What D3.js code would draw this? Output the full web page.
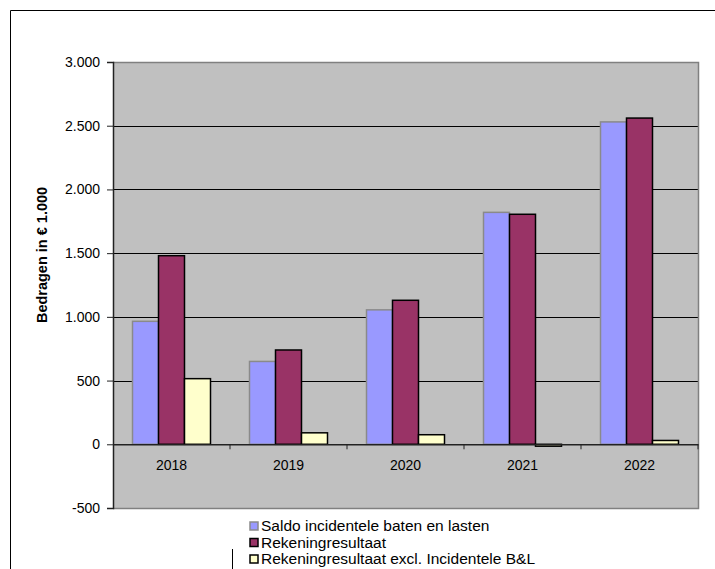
<!DOCTYPE html>
<html>
<head>
<meta charset="utf-8">
<script src="https://cdn.jsdelivr.net/npm/d3@7/dist/d3.min.js"></script>
<style>
  html, body { margin: 0; padding: 0; background: #fff; }
  svg { display: block; font-family: "Liberation Sans", Arial, sans-serif; }
</style>
</head>
<body>
<svg id="chart" width="715" height="569"></svg>
<script>
// Jaren en bedragen (x € 1.000)
const years = ["2018", "2019", "2020", "2021", "2022"];
const seriesNames = [
  "Saldo incidentele baten en lasten",
  "Rekeningresultaat",
  "Rekeningresultaat excl. Incidentele B&L"
];
const saldoIncidenteel = [965, 650, 1055, 1820, 2530];
const rekeningresultaat = [1480, 740, 1130, 1805, 2560];
const rekeningExclIncidenteel = [515, 90, 75, -15, 30];
const yTicks = [-500, 0, 500, 1000, 1500, 2000, 2500, 3000];
const yTickLabels = ["-500", "0", "500", "1.000", "1.500", "2.000", "2.500", "3.000"];

const seriesValues = [saldoIncidenteel, rekeningresultaat, rekeningExclIncidenteel];
const fills = ["#9999FF", "#993366", "#FFFFCC"];
const strokes = ["#8a8a8a", "#000000", "#000000"];

const svg = d3.select("#chart");

// outer chart frame (continues past the right and bottom edges)
svg.append("path")
  .attr("d", "M10.5,569 V10.5 H715")
  .attr("fill", "none").attr("stroke", "#000").attr("stroke-width", 1);

const plot = { left: 113, right: 698, top: 62, bottom: 508 };

const y = d3.scaleLinear().domain([-500, 3000]).range([plot.bottom, plot.top]);
const x0 = d3.scaleBand().domain(years).range([plot.left, plot.right]).paddingInner(0).paddingOuter(0);
// three bars per year with a 150% gap between groups
const x1 = d3.scaleBand().domain(d3.range(3)).range([0, x0.bandwidth()]).paddingOuter(0.75).paddingInner(0);

// plot area background
svg.append("rect")
  .attr("x", plot.left).attr("y", plot.top)
  .attr("width", plot.right - plot.left).attr("height", plot.bottom - plot.top)
  .attr("fill", "#C0C0C0");

// gridlines
svg.append("g").selectAll("line")
  .data(yTicks.filter(v => v !== 0 && v !== -500))
  .join("line")
  .attr("x1", plot.left).attr("x2", plot.right)
  .attr("y1", d => Math.round(y(d)) + 0.5).attr("y2", d => Math.round(y(d)) + 0.5)
  .attr("stroke", "#000").attr("stroke-width", 1);

// plot border (top, right, bottom)
svg.append("path")
  .attr("d", `M${plot.left},${plot.top + 0.5} H${plot.right + 0.5} V${plot.bottom + 0.5} H${plot.left}`)
  .attr("fill", "none").attr("stroke", "#808080").attr("stroke-width", 1.5);

// bars
const groups = svg.append("g").selectAll("g")
  .data(years)
  .join("g")
  .attr("transform", d => `translate(${x0(d)},0)`);

groups.selectAll("rect")
  .data((d, i) => seriesValues.map((vals, s) => ({ s, v: vals[i] })))
  .join("rect")
  .attr("x", d => x1(d.s))
  .attr("width", x1.bandwidth())
  .attr("y", d => y(Math.max(0, d.v)))
  .attr("height", d => Math.abs(y(d.v) - y(0)))
  .attr("fill", d => fills[d.s])
  .attr("stroke", d => strokes[d.s])
  .attr("stroke-width", 1.5);

// value axis
const yAxis = d3.axisLeft(y)
  .tickValues(yTicks)
  .tickFormat((d, i) => yTickLabels[i])
  .tickSize(6)
  .tickPadding(7);
const gy = svg.append("g").attr("transform", `translate(${plot.left},0)`).call(yAxis);
gy.select(".domain").attr("stroke", "#222").attr("stroke-width", 1.5);
gy.selectAll(".tick line").attr("stroke", "#222");
gy.selectAll("text").attr("font-size", 14).attr("fill", "#000")
  .attr("font-family", "'Liberation Sans', Arial, sans-serif");

// category axis at zero
const xAxis = d3.axisBottom(x0).tickSize(0).tickPadding(16);
const gx = svg.append("g").attr("transform", `translate(0,${y(0)})`).call(xAxis);
gx.select(".domain").attr("stroke", "#222").attr("stroke-width", 1.5);
gx.selectAll("text").attr("font-size", 14).attr("fill", "#000")
  .attr("font-family", "'Liberation Sans', Arial, sans-serif");
// tick marks between the years
gx.append("g").selectAll("line")
  .data(years.slice(1).concat(["end"]))
  .join("line")
  .attr("x1", d => d === "end" ? plot.right : x0(d))
  .attr("x2", d => d === "end" ? plot.right : x0(d))
  .attr("y1", 0).attr("y2", 5)
  .attr("stroke", "#222").attr("stroke-width", 1);

// axis title
svg.append("text")
  .attr("transform", "translate(47,255) rotate(-90)")
  .attr("text-anchor", "middle")
  .attr("font-size", 14.5)
  .attr("font-weight", "bold")
  .text("Bedragen in € 1.000");

// legend
const legend = svg.append("g").attr("transform", "translate(250,522)");
legend.append("line")
  .attr("x1", -17.5).attr("x2", -17.5).attr("y1", 27).attr("y2", 47)
  .attr("stroke", "#000").attr("stroke-width", 1);
const items = legend.selectAll("g")
  .data(seriesNames)
  .join("g")
  .attr("transform", (d, i) => `translate(0,${i * 16.5})`);
items.append("rect")
  .attr("width", 8).attr("height", 8)
  .attr("fill", (d, i) => fills[i])
  .attr("stroke", (d, i) => strokes[i])
  .attr("stroke-width", 1.5);
items.append("text")
  .attr("x", 11).attr("y", 9)
  .attr("font-size", 15.5)
  .text(d => d);
</script>
</body>
</html>
